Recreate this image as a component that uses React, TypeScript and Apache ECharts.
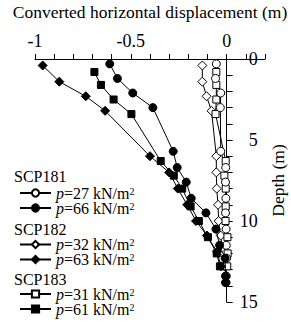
import React, { useEffect, useRef } from "react";
import * as echarts from "echarts";

// Depths (m) of the measuring points in each borehole
const depth181 = [0.3, 1.2, 2.1, 3.0, 5.7, 6.7, 7.6, 8.6, 9.5, 10.5, 11.5, 12.3, 13.4, 13.8];
const depth182 = [0.4, 1.4, 2.3, 3.2, 6.0, 7.0, 8.0, 9.0, 10.0, 10.9, 11.9, 12.8];
const depth183 = [0.8, 1.6, 2.5, 3.4, 6.3, 7.2, 8.0, 9.1, 10.0, 11.0, 12.0, 12.8];

// Converted horizontal displacement (m)
const scp181p27 = [-0.054, -0.058, -0.031, -0.033, -0.031, -0.005, -0.006, -0.004, -0.006, -0.003, -0.002, 0.0, -0.002, -0.003];
const scp181p66 = [-0.61, -0.57, -0.49, -0.385, -0.279, -0.258, -0.211, -0.185, -0.108, -0.056, -0.037, -0.008, -0.006, -0.006];
const scp182p32 = [-0.127, -0.127, -0.105, -0.079, -0.054, -0.054, -0.052, -0.045, -0.042, -0.031, -0.02, -0.012];
const scp182p63 = [-0.96, -0.873, -0.735, -0.634, -0.4, -0.3, -0.255, -0.206, -0.16, -0.103, -0.05, -0.03];
const scp183p31 = [-0.054, -0.054, -0.054, -0.058, -0.005, -0.012, -0.005, -0.005, -0.006, 0.004, 0.005, 0.003];
const scp183p61 = [-0.69, -0.656, -0.59, -0.497, -0.344, -0.276, -0.232, -0.188, -0.145, -0.098, -0.052, -0.035];

const groupNames = ["SCP181", "SCP182", "SCP183"];
const legendNames = ["s181a", "s181b", "s182a", "s182b", "s183a", "s183b"];
const legendPressure: Record<string, string> = {
  s181a: "27", s181b: "66",
  s182a: "32", s182b: "63",
  s183a: "31", s183b: "61",
};
const xTickLabels = [-1, -0.5, 0];
const yTickLabels = [0, 5, 10, 15];

const FONT = "Liberation Serif";

export default function App() {
  const ref = useRef<HTMLDivElement>(null);
  useEffect(() => {
    const chart = echarts.init(ref.current!, null, { renderer: "svg" });
    const mk = (name: string, depths: number[], vals: number[], symbol: string, size: number, filled: boolean, z: number) => ({
      type: "line",
      name,
      xAxisIndex: 0,
      yAxisIndex: 0,
      data: depths.map((d, i) => [vals[i], d]),
      symbol,
      symbolSize: size,
      showSymbol: true,
      showAllSymbol: true,
      z,
      lineStyle: { color: "#000", width: 1 },
      itemStyle: { color: filled ? "#000" : "#fff", borderColor: "#000", borderWidth: 1 },
      emphasis: { disabled: true },
      silent: true,
    });
    const legendText = {
      fontFamily: FONT,
      fontSize: 16,
      color: "#000",
      lineHeight: 14,
      rich: {
        i: { fontFamily: FONT, fontSize: 16, fontStyle: "italic", color: "#000", lineHeight: 14 },
        n: { fontFamily: FONT, fontSize: 16, color: "#000", lineHeight: 14 },
        s: { fontFamily: FONT, fontSize: 10, color: "#000", lineHeight: 6, verticalAlign: "top" },
      },
    };
    const legendFmt = (name: string) => `{i|p}{n|=${legendPressure[name]} kN/m}{s|2}`;
    const rowCenters = [192, 207, 243.5, 258.5, 293, 308];
    const headerY = [176, 229, 279];
    const gridTop = 59;
    const gridBottom = 20;
    const plotLeft = 35;
    const plotRight = 265;
    const xMin = -1;
    const xMax = 0.2;
    const zeroX = plotLeft + ((0 - xMin) / (xMax - xMin)) * (plotRight - plotLeft);
    const option: any = {
      animation: false,
      backgroundColor: "#fff",
      grid: [
        { left: plotLeft, right: 291 - plotRight, top: gridTop, bottom: gridBottom, outerBoundsMode: "none", containLabel: false },
        { left: plotLeft, right: 291 - zeroX, top: gridTop, bottom: gridBottom, outerBoundsMode: "none", containLabel: false },
      ],
      xAxis: [
        {
          type: "value",
          gridIndex: 0,
          position: "top",
          min: xMin,
          max: xMax,
          interval: 0.1,
          axisLine: { show: true, onZero: false, lineStyle: { color: "#000", width: 1 } },
          axisTick: { show: true, length: 5, lineStyle: { color: "#000", width: 1 } },
          axisLabel: {
            formatter: (v: number) => {
              const hit = xTickLabels.find((t) => Math.abs(t - v) < 1e-6);
              return hit === undefined ? "" : String(hit);
            },
            fontFamily: FONT,
            fontSize: 18,
            color: "#000",
            margin: 9,
          },
          splitLine: { show: false },
          name: "Converted horizontal displacement (m)",
          nameLocation: "middle",
          nameGap: 38,
          nameTextStyle: { fontFamily: FONT, fontSize: 17.5, color: "#000" },
        },
        { type: "value", gridIndex: 1, min: -1, max: 0, show: false },
      ],
      yAxis: [
        { type: "value", gridIndex: 0, inverse: true, min: 0, max: 15, show: false },
        {
          type: "value",
          gridIndex: 1,
          inverse: true,
          min: 0,
          max: 15,
          interval: 1,
          position: "right",
          axisLine: { show: true, onZero: false, lineStyle: { color: "#000", width: 1 } },
          axisTick: { show: true, length: 6, lineStyle: { color: "#000", width: 1 } },
          axisLabel: {
            formatter: (v: number) => (yTickLabels.includes(v) ? String(v) : ""),
            align: "right",
            margin: 31,
            fontFamily: FONT,
            fontSize: 18,
            color: "#000",
          },
          splitLine: { show: false },
          name: "Depth (m)",
          nameLocation: "middle",
          nameGap: 39,
          nameTextStyle: { fontFamily: FONT, fontSize: 17.5, color: "#000" },
        },
      ],
      legend: legendNames.map((n, i) => ({
        data: [n],
        left: 19,
        top: rowCenters[i] - 7,
        orient: "vertical",
        itemWidth: 31,
        itemHeight: 9,
        itemGap: 0,
        padding: 0,
        selectedMode: false,
        formatter: legendFmt,
        textStyle: legendText,
      })),
      graphic: groupNames.map((g, i) => ({
        type: "text",
        x: 14,
        y: headerY[i],
        silent: true,
        style: { text: g, fontFamily: FONT, fontSize: 16, fill: "#000", verticalAlign: "middle", align: "left" },
      })),
      series: [
        mk("s182a", depth182, scp182p32, "diamond", 9, false, 2),
        mk("s183a", depth183, scp183p31, "rect", 7, false, 2),
        mk("s181a", depth181, scp181p27, "circle", 8, false, 2),
        mk("s182b", depth182, scp182p63, "diamond", 9, true, 3),
        mk("s183b", depth183, scp183p61, "rect", 7, true, 3),
        mk("s181b", depth181, scp181p66, "circle", 8, true, 3),
      ],
    };
    chart.setOption(option);
    return () => chart.dispose();
  }, []);
  return <div ref={ref} style={{ position: "absolute", left: 0, top: 0, width: 291, height: 322 }} />;
}
